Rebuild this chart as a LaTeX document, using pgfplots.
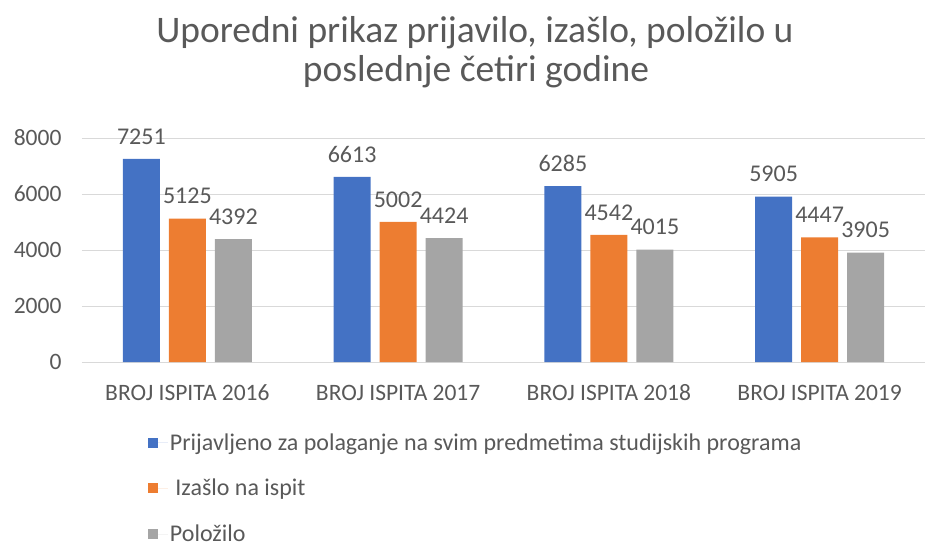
\documentclass[border=0pt]{standalone}
\usepackage{pgfplots}
\pgfplotsset{compat=1.18}
\usepackage{fontspec}
\setmainfont{Carlito}
\definecolor{cblue}{HTML}{4472C4}
\definecolor{corange}{HTML}{ED7D31}
\definecolor{cgray}{HTML}{A5A5A5}
\definecolor{txt}{HTML}{595959}
\definecolor{gridc}{HTML}{D9D9D9}
\begin{document}
\begin{tikzpicture}[x=1pt,y=1pt]
\useasboundingbox (0,0) rectangle (941,549);
\begin{axis}[
  at={(82pt,187pt)}, anchor=south west,
  scale only axis, width=843pt, height=224pt,
  ybar=9pt, bar width=37pt,
  xmin=-0.5, xmax=3.5, ymin=0, ymax=8000,
  xtick={0,1,2,3},
  xticklabels={BROJ ISPITA 2016,BROJ ISPITA 2017,BROJ ISPITA 2018,BROJ ISPITA 2019},
  ytick={0,2000,4000,6000,8000},
  ymajorgrids, xmajorgrids=false, major grid style={draw=gridc, line width=0.8pt},
  axis line style={draw=none},
  axis x line*=bottom, axis y line*=left,
  x axis line style={draw=gridc, line width=0.8pt},
  major tick length=0pt,
  tick label style={font=\fontsize{23.5}{27}\selectfont, text=txt},
  /pgf/number format/assume math mode=true,
  /pgf/number format/1000 sep={},
  xticklabel style={yshift=-19pt, text height=16pt, text depth=5pt},
  yticklabel style={xshift=-17pt},
  nodes near coords,
  nodes near coords style={font=\fontsize{24}{28}\selectfont, text=txt, yshift=11pt, /pgf/number format/1000 sep={}},
  legend style={at={(rel axis cs:0.078,-0.31)}, anchor=north west, draw=none, fill=none,
    font=\fontsize{24}{28}\selectfont, text=txt, row sep=23.5pt,
    legend cell align=left, inner sep=0pt},
  legend image code/.code={\path (0pt,0pt) -- (20pt,0pt); \fill[#1] (0pt,-5pt) rectangle (10pt,5pt);},
  clip=false,
]
\addplot[fill=cblue, draw=none] coordinates {(0,7251) (1,6613) (2,6285) (3,5905)};
\addplot[fill=corange, draw=none] coordinates {(0,5125) (1,5002) (2,4542) (3,4447)};
\addplot[fill=cgray, draw=none] coordinates {(0,4392) (1,4424) (2,4015) (3,3905)};
\legend{Prijavljeno za polaganje na svim predmetima studijskih programa,\ Izašlo na ispit,Položilo}
\end{axis}
\node[text=txt, font=\fontsize{37.5}{39}\selectfont, anchor=base] at (475,506) {Uporedni prikaz prijavilo, izašlo, položilo u};
\node[text=txt, font=\fontsize{37.5}{39}\selectfont, anchor=base] at (476,467) {poslednje četiri godine};
\end{tikzpicture}
\end{document}
